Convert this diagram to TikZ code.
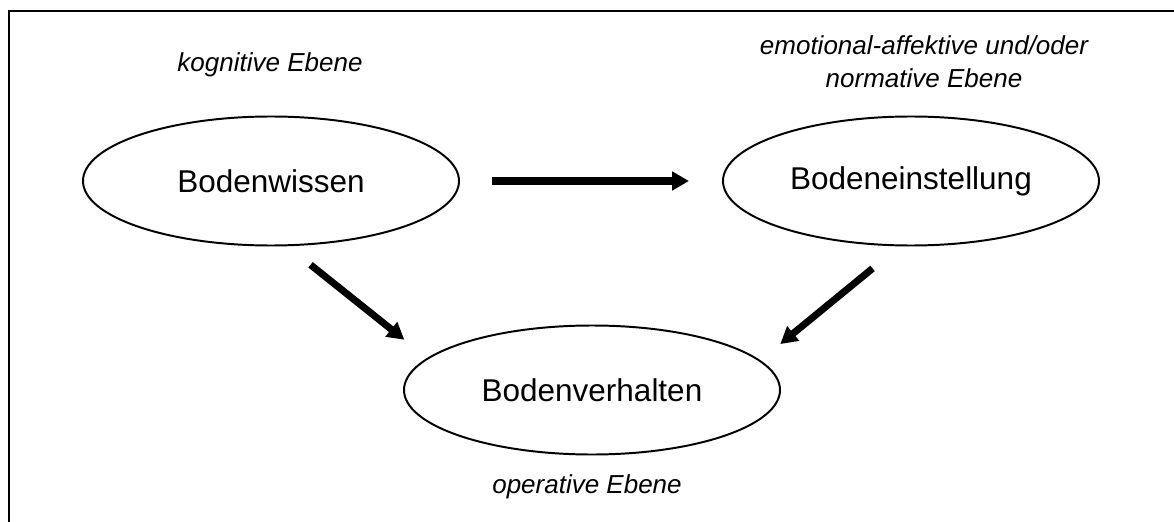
\documentclass[tikz,border=0pt]{standalone}
\usepackage{fontspec}
\setmainfont{Liberation Sans}
\usepackage{tikz}
\usetikzlibrary{arrows.meta,shapes.geometric}

\begin{document}
\begin{tikzpicture}[
		oval/.style={ellipse,draw,line width=1.4pt,minimum width=9.4cm,minimum height=3.225cm,
				inner sep=0pt,font=\fontsize{22.4}{26}\selectfont},
		lvl/.style={align=center,inner sep=0pt,font=\fontsize{18.5}{23.5}\selectfont\itshape},
		arr/.style={line width=5pt,-{Triangle[length=0.42cm,width=0.45cm]}},
	]
	\useasboundingbox (0,0) rectangle (29.35,-13.05);
	\draw[line width=1.4pt] (0.225,-13.3) -- (0.225,-0.275) -- (29.6,-0.275);
	% the three fields
	\node[oval] (w) at (6.775,-4.525) {Bodenwissen};
	\node[oval] (e) at (22.775,-4.525) {Bodeneinstellung};
	\node[oval] (v) at (14.8,-9.75) {Bodenverhalten};
	% levels
	\node[lvl] (kw) at (6.75,-1.625) {kognitive Ebene};
	\node[lvl] (ke) at (23.1,-1.55) {emotional-affektive und/oder\\normative Ebene};
	\node[lvl] (kv) at (14.675,-12.175) {operative Ebene};
	% influences
	\draw[arr,shorten <=0.8cm,shorten >=0.825cm] (w) -- (e);
	\draw[arr,shorten <=0.745cm,shorten >=0.73cm] (w.-76) -- (v.169.5);
	\draw[arr,shorten <=0.87cm,shorten >=0.64cm] (e.260.6) -- (v.10.6);
\end{tikzpicture}
\end{document}
